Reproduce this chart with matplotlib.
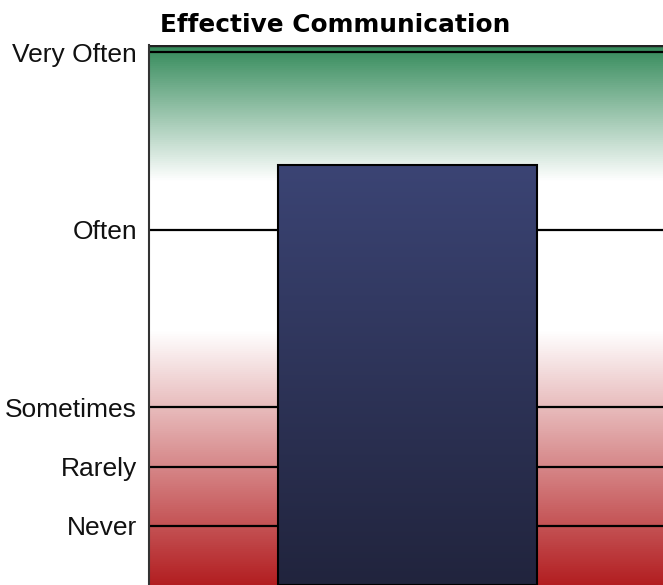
import numpy as np
import matplotlib.pyplot as plt
from matplotlib.colors import LinearSegmentedColormap

# данные
levels = ['Never', 'Rarely', 'Sometimes', 'Often', 'Very Often']
level_values = [1, 2, 3, 6, 9]
categories = ['Effective Communication']
scores = [7.09]

plt.rcParams['font.family'] = ['Liberation Sans', 'DejaVu Sans']

fig = plt.figure(figsize=(6.63, 5.85), dpi=100)
# ось выходит за правый край картинки, как в оригинале
ax = fig.add_axes([149 / 663, 0.0, 517 / 663, (585 - 45) / 585])

y_top = 9.12
ax.set_xlim(-0.5, 0.5)
ax.set_ylim(0, y_top)

# фон: зелёный сверху, белый посередине, красный снизу
bg = LinearSegmentedColormap.from_list('bg', [
    (0.0, (0.70, 0.12, 0.13)),
    (0.47, (1.0, 1.0, 1.0)),
    (0.75, (1.0, 1.0, 1.0)),
    (1.0, (0.20, 0.54, 0.35)),
])
grad = np.linspace(0, 1, 512).reshape(-1, 1)
ax.imshow(grad, cmap=bg, origin='lower', aspect='auto',
          extent=[-0.5, 0.5, 0, y_top], zorder=0)

# линии уровней
for v in level_values:
    ax.axhline(v, color='black', lw=1.6, zorder=1)
ax.axhline(y_top, color='#222222', lw=2.5, zorder=1)

# столбец с градиентом
bars = ax.bar([0], scores, width=0.5, color='none', edgecolor='black',
              linewidth=1.5, zorder=3)
bar_cmap = LinearSegmentedColormap.from_list('bar', ['#21243d', '#3b4474'])
for b in bars:
    im = ax.imshow(grad, cmap=bar_cmap, origin='lower', aspect='auto',
                   extent=[b.get_x(), b.get_x() + b.get_width(), 0, b.get_height()],
                   zorder=2)
    im.set_clip_path(b)

ax.set_xlim(-0.5, 0.5)
ax.set_ylim(0, y_top)
ax.set_yticks(level_values)
ax.set_yticklabels(levels, fontsize=19, color='#111111')
ax.tick_params(axis='y', length=0, pad=8.5)
ax.set_xticks([])
for side in ['top', 'right', 'bottom']:
    ax.spines[side].set_visible(False)
ax.spines['left'].set_linewidth(1.5)
ax.spines['left'].set_color('#333333')

fig.text(160 / 663, 1 - 32 / 585, categories[0], fontsize=17.8,
         fontweight='bold', family='DejaVu Sans', ha='left', va='baseline')

fig.savefig('out.png', dpi=100)
